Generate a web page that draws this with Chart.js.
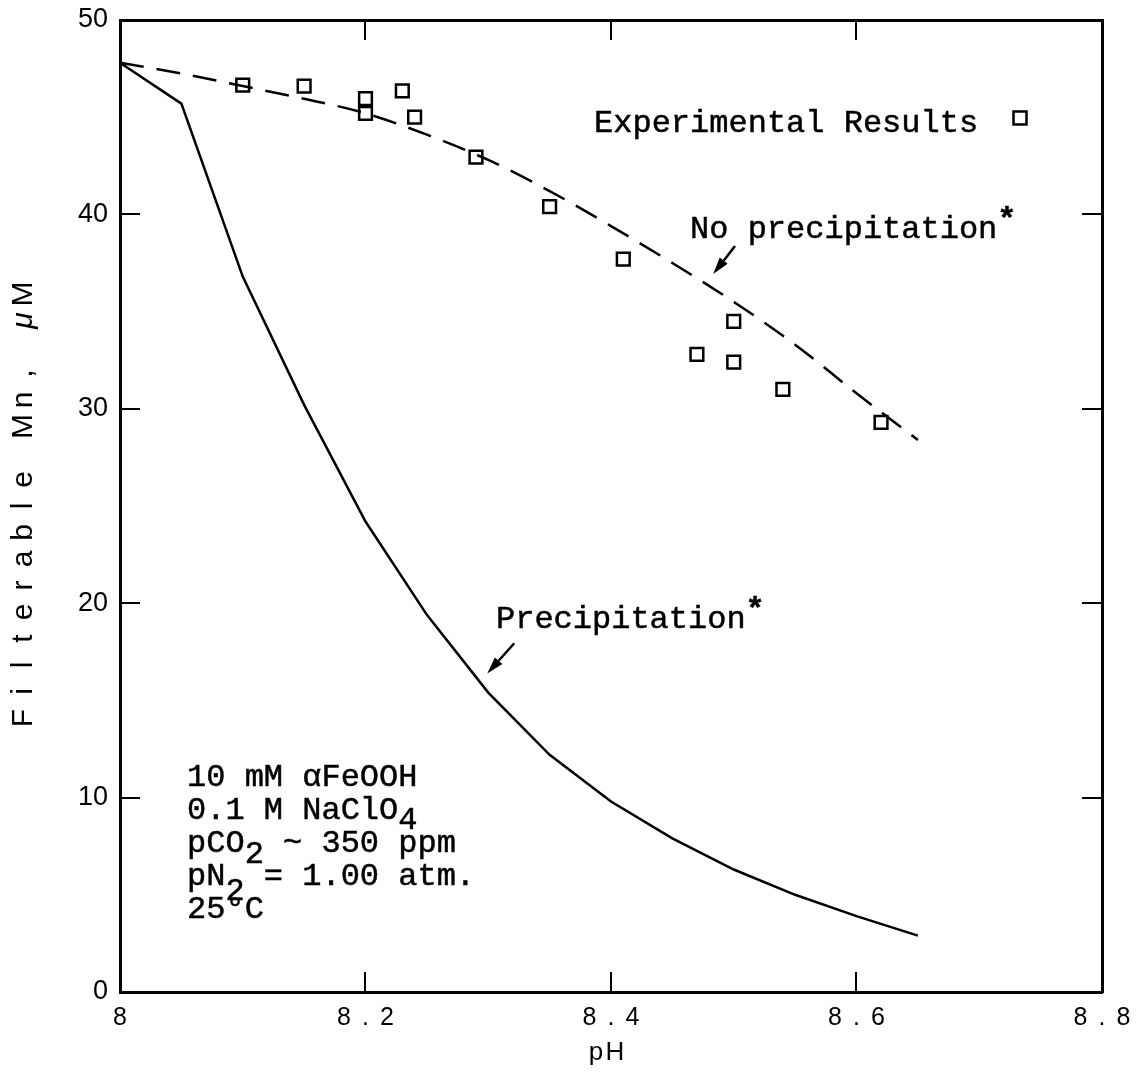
<!DOCTYPE html>
<html>
<head>
<meta charset="utf-8">
<script src="https://cdn.jsdelivr.net/npm/chart.js@4/dist/chart.umd.min.js"></script>
<style>
  html, body { margin: 0; padding: 0; background: #fff; }
  #wrap { width: 1141px; height: 1074px; }
</style>
</head>
<body>
<div id="wrap"><canvas id="c" width="1141" height="1074"></canvas></div>
<script>
// Axis ticks
const phTicks = [8.0, 8.2, 8.4, 8.6, 8.8];
const mnTicks = [0, 10, 20, 30, 40, 50];

// Model curve: no precipitation (dashed)
const noPrecipPH = [8.00, 8.05, 8.10, 8.15, 8.20, 8.25, 8.30, 8.35, 8.40, 8.45, 8.50, 8.55, 8.60, 8.65];
const noPrecipMn = [47.8, 47.25, 46.6, 45.95, 45.2, 44.1, 42.8, 41.2, 39.4, 37.5, 35.5, 33.3, 30.8, 28.4];

// Model curve: precipitation (solid)
const precipPH = [8.00, 8.05, 8.10, 8.15, 8.20, 8.25, 8.30, 8.35, 8.40, 8.45, 8.50, 8.55, 8.60, 8.65];
const precipMn = [47.8, 45.7, 36.8, 30.2, 24.2, 19.4, 15.4, 12.2, 9.8, 7.9, 6.3, 5.0, 3.9, 2.9];

// Measured filterable Mn
const expPH = [8.10, 8.15, 8.20, 8.20, 8.23, 8.24, 8.29, 8.35, 8.41, 8.47, 8.50, 8.50, 8.54, 8.62];
const expMn = [46.65, 46.6, 45.95, 45.2, 46.35, 45.0, 42.95, 40.4, 37.7, 32.8, 34.5, 32.4, 31.0, 29.3];

const toPts = (xs, ys) => xs.map((x, i) => ({ x: x, y: ys[i] }));

const monoFont = '32px "Liberation Mono", "Courier New", monospace';
const starFont = 'bold 32px "Liberation Mono", "Courier New", monospace';
const sansFamily = '"Liberation Sans", Arial, sans-serif';

// Inward tick marks on every side, thick frame
function axisCommon(extra) {
  return Object.assign({
    type: 'linear',
    grid: { drawOnChartArea: false, drawTicks: true, tickLength: -20, color: '#000', lineWidth: 2 },
    border: { display: true, color: '#000', width: 3 }
  }, extra);
}

// Fixed axis sizes; no extra room reserved for overhanging end labels
function fixSize(w, h) {
  return s => {
    if (w !== null) s.width = w;
    if (h !== null) s.height = h;
    s.paddingLeft = 0; s.paddingRight = 0; s.paddingTop = 0; s.paddingBottom = 0;
  };
}

// Wider letter spacing for the pH tick labels (shifted to keep glyphs centred)
const tickSpacing = {
  id: 'tickSpacing',
  afterUpdate(chart) {
    const s = chart.scales.x;
    if (s && !s.__spaced) {
      const orig = s.drawLabels;
      s.drawLabels = function (area) {
        const c = this.ctx;
        c.save();
        c.letterSpacing = '11px';
        c.translate(5.5, 0);
        orig.call(this, area);
        c.restore();
      };
      s.__spaced = true;
    }
  }
};

function arrow(ctx, x0, y0, x1, y1) {
  const ang = Math.atan2(y1 - y0, x1 - x0);
  const hl = 17, hw = 5;
  const bx = x1 - hl * Math.cos(ang), by = y1 - hl * Math.sin(ang);
  ctx.beginPath();
  ctx.moveTo(x0, y0);
  ctx.lineTo(bx, by);
  ctx.lineWidth = 2.5;
  ctx.stroke();
  ctx.beginPath();
  ctx.moveTo(x1, y1);
  ctx.lineTo(bx + hw * Math.sin(ang), by - hw * Math.cos(ang));
  ctx.lineTo(bx - hw * Math.sin(ang), by + hw * Math.cos(ang));
  ctx.closePath();
  ctx.fill();
}

// Labels, notes and axis titles
const annotations = {
  id: 'annotations',
  afterDraw(chart) {
    const { ctx, scales } = chart;
    const X = v => scales.x.getPixelForValue(v);
    const Y = v => scales.y.getPixelForValue(v);
    ctx.save();
    ctx.fillStyle = '#000';
    ctx.strokeStyle = '#000';
    ctx.textBaseline = 'alphabetic';
    ctx.textAlign = 'left';

    // typewritten text; [text, vertical offset, font]
    const run = (parts, px, py) => {
      let cx = px;
      for (const [t, dy, f] of parts) {
        ctx.font = f || monoFont;
        ctx.lineWidth = 0.5;
        ctx.fillText(t, cx, py + dy);
        ctx.strokeText(t, cx, py + dy);
        cx += ctx.measureText(t).width;
      }
    };

    // legend
    run([['Experimental Results', 0]], X(8.3862), Y(44.24));
    ctx.lineWidth = 2.5;
    ctx.strokeRect(X(8.7332) - 6.5, Y(44.96) - 6.5, 13, 13);

    // curve labels
    run([['No precipitation', 0], ['*', -9, starFont]], X(8.4644), Y(38.77));
    run([['Precipitation', 0], ['*', -9, starFont]], X(8.3063), Y(18.72));
    arrow(ctx, X(8.501), Y(38.37), X(8.4833), Y(36.93));
    arrow(ctx, X(8.3212), Y(17.94), X(8.2992), Y(16.39));

    // experimental conditions
    const lx = X(8.0546);
    run([['10 mM \u03B1FeOOH', 0]], lx, Y(10.60));
    run([['0.1 M NaClO', 0], ['4', 10]], lx, Y(8.90));
    run([['pCO', 0], ['2', 11], [' ~ 350 ppm', 0]], lx, Y(7.20));
    run([['pN', 0], ['2', 15], [' = 1.00 atm.', 0]], lx, Y(5.50));
    run([['25\u00B0C', 0]], lx, Y(3.81));

    // y-axis title, evenly pitched characters
    const title = 'Filterable Mn, \u03BCM';
    const pitch = 26.5;
    ctx.save();
    ctx.translate(32, (chart.chartArea.top + chart.chartArea.bottom) / 2);
    ctx.rotate(-Math.PI / 2);
    ctx.textAlign = 'center';
    const n = title.length;
    for (let i = 0; i < n; i++) {
      const ch = title[i];
      ctx.font = (ch === '\u03BC' ? 'italic ' : '') + '30px ' + sansFamily;
      ctx.fillText(ch, (i - (n - 1) / 2) * pitch, 0);
    }
    ctx.restore();

    // x-axis title
    ctx.font = '26px ' + sansFamily;
    ctx.textAlign = 'center';
    const cx = (chart.chartArea.left + chart.chartArea.right) / 2 - 6;
    ctx.fillText('p', cx - 9, 1060);
    ctx.fillText('H', cx + 10, 1060);
    ctx.restore();
  }
};

new Chart(document.getElementById('c').getContext('2d'), {
  type: 'scatter',
  data: {
    datasets: [
      {
        label: 'Experimental Results',
        data: toPts(expPH, expMn),
        showLine: false,
        pointStyle: 'rect',
        pointRadius: 9,
        pointHoverRadius: 9,
        borderColor: '#000',
        backgroundColor: 'rgba(0,0,0,0)',
        borderWidth: 2.5
      },
      {
        label: 'No precipitation',
        data: toPts(noPrecipPH, noPrecipMn),
        showLine: true,
        pointRadius: 0,
        borderColor: '#000',
        borderWidth: 2.5,
        borderDash: [24, 13],
        cubicInterpolationMode: 'monotone'
      },
      {
        label: 'Precipitation',
        data: toPts(precipPH, precipMn),
        showLine: true,
        pointRadius: 0,
        borderColor: '#000',
        borderWidth: 2.5,
        tension: 0
      }
    ]
  },
  options: {
    responsive: false,
    animation: false,
    devicePixelRatio: 1,
    events: [],
    layout: { padding: { top: 20, right: 39, left: 0, bottom: 0 } },
    plugins: { legend: { display: false }, tooltip: { enabled: false } },
    scales: {
      x: axisCommon({
        position: 'bottom', min: 8, max: 8.8,
        afterBuildTicks: s => { s.ticks = phTicks.map(v => ({ value: v })); },
        ticks: { color: '#000', padding: 31, maxRotation: 0, autoSkip: false,
                 font: { family: sansFamily, size: 25 },
                 callback: v => String(v) },
        afterFit: fixSize(null, 82)
      }),
      x2: axisCommon({
        position: 'top', min: 8, max: 8.8,
        afterBuildTicks: s => { s.ticks = phTicks.map(v => ({ value: v })); },
        ticks: { display: false },
        afterFit: fixSize(null, 0)
      }),
      y: axisCommon({
        position: 'left', min: 0, max: 50,
        afterBuildTicks: s => { s.ticks = mnTicks.map(v => ({ value: v })); },
        ticks: { color: '#000', padding: 32, autoSkip: false,
                 font: { family: sansFamily, size: 27 },
                 callback: v => String(v) },
        afterFit: fixSize(120, null)
      }),
      y2: axisCommon({
        position: 'right', min: 0, max: 50,
        afterBuildTicks: s => { s.ticks = mnTicks.map(v => ({ value: v })); },
        ticks: { display: false },
        afterFit: fixSize(0, null)
      })
    }
  },
  plugins: [tickSpacing, annotations]
});
</script>
</body>
</html>
